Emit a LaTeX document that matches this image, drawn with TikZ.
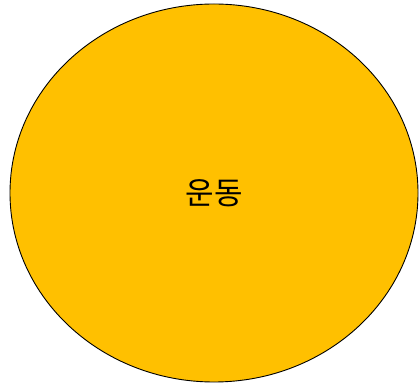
\documentclass[tikz,border=0pt]{standalone}
\usepackage{fontspec}
\usepackage{xcolor}
\usetikzlibrary{shapes.geometric}
\newfontfamily\kofont{Noto Sans CJK KR}
\definecolor{sportGold}{RGB}{255,192,0}

\begin{document}
\begin{tikzpicture}[x=1pt,y=1pt,
  blob/.style={draw=black,line width=0.9pt,ellipse,fill=sportGold,inner sep=0pt,
    minimum width=408pt,minimum height=378pt,font=\kofont\fontsize{31}{36}\selectfont}
]
\useasboundingbox (0,0) rectangle (419,385);
\node[blob] (exercise) at (214,192) {운동};
\end{tikzpicture}
\end{document}
